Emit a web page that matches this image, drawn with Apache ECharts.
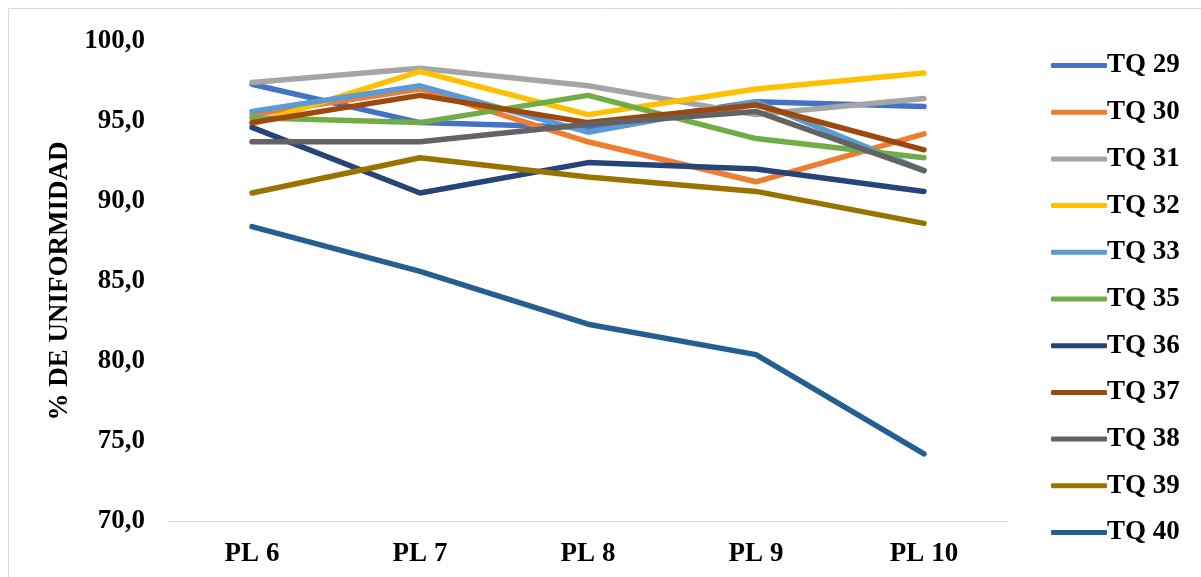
<!DOCTYPE html>
<html>
<head>
<meta charset="utf-8">
<script src="https://cdn.jsdelivr.net/npm/echarts@6/dist/echarts.min.js"></script>
<style>
  html, body { margin: 0; padding: 0; background: #fff; }
  #chart { width: 1201px; height: 577px; }
</style>
</head>
<body>
<div id="chart"></div>
<script>
// Uniformity (%) per lateral plot for each TQ sample
const categories = ['PL 6', 'PL 7', 'PL 8', 'PL 9', 'PL 10'];
const yTicks = [70, 75, 80, 85, 90, 95, 100];

const tq29 = [97.3, 94.9, 94.6, 96.2, 95.9];
const tq30 = [95.4, 97.0, 93.7, 91.2, 94.2];
const tq31 = [97.4, 98.3, 97.2, 95.4, 96.4];
const tq32 = [94.8, 98.1, 95.4, 97.0, 98.0];
const tq33 = [95.6, 97.2, 94.3, 96.2, 91.9];
const tq35 = [95.2, 94.9, 96.6, 93.9, 92.7];
const tq36 = [94.6, 90.5, 92.4, 92.0, 90.6];
const tq37 = [94.9, 96.6, 94.9, 96.0, 93.2];
const tq38 = [93.7, 93.7, 94.8, 95.6, 91.9];
const tq39 = [90.5, 92.7, 91.5, 90.6, 88.6];
const tq40 = [88.4, 85.6, 82.3, 80.4, 74.2];

const seriesNames = ['TQ 29', 'TQ 30', 'TQ 31', 'TQ 32', 'TQ 33', 'TQ 35', 'TQ 36', 'TQ 37', 'TQ 38', 'TQ 39', 'TQ 40'];
const seriesData = [tq29, tq30, tq31, tq32, tq33, tq35, tq36, tq37, tq38, tq39, tq40];
const colors = ['#4472C4', '#ED7D31', '#A5A5A5', '#FFC000', '#5B9BD5', '#70AD47',
                '#264478', '#9E480E', '#636363', '#997300', '#255E91'];

const font = 'Liberation Serif, Times New Roman, serif';
const textSize = 27;

const chart = echarts.init(document.getElementById('chart'), null, { renderer: 'canvas' });

chart.setOption({
  animation: false,
  backgroundColor: '#fff',
  color: colors,
  graphic: [{
    type: 'rect',
    shape: { x: 8.5, y: 8.5, width: 1200, height: 580 },
    style: { fill: 'none', stroke: '#D9D9D9', lineWidth: 1 },
    silent: true
  }],
  grid: { left: 168, right: 193, top: 41, bottom: 56, containLabel: false },
  legend: {
    orient: 'vertical',
    left: 1046,
    top: 47,
    itemGap: 19.7,
    itemWidth: 56,
    itemHeight: 5,
    icon: 'roundRect',
    textStyle: {
      fontFamily: font, fontWeight: 'bold', fontSize: textSize, lineHeight: 27,
      color: '#000', padding: [0, 0, 0, -5]
    },
    data: seriesNames
  },
  xAxis: {
    type: 'category',
    data: categories,
    boundaryGap: true,
    axisLine: { show: true, lineStyle: { color: '#D9D9D9', width: 1 } },
    axisTick: { show: false },
    axisLabel: { margin: 20, fontFamily: font, fontWeight: 'bold', fontSize: textSize, color: '#000' }
  },
  yAxis: {
    type: 'value',
    min: yTicks[0],
    max: yTicks[yTicks.length - 1],
    interval: 5,
    axisLine: { show: false },
    axisTick: { show: false },
    splitLine: { show: false },
    axisLabel: {
      margin: 23,
      fontFamily: font, fontWeight: 'bold', fontSize: textSize, color: '#000',
      formatter: v => v.toFixed(1).replace('.', ',')
    },
    name: '% DE UNIFORMIDAD',
    nameLocation: 'middle',
    nameGap: 94,
    nameRotate: 90,
    nameTextStyle: { fontFamily: font, fontWeight: 'bold', fontSize: textSize, color: '#000' }
  },
  series: seriesNames.map((name, i) => ({
    name: name,
    type: 'line',
    data: seriesData[i],
    symbol: 'none',
    lineStyle: { width: 5.5, color: colors[i], cap: 'round', join: 'round' },
    itemStyle: { color: colors[i] }
  }))
});
</script>
</body>
</html>
